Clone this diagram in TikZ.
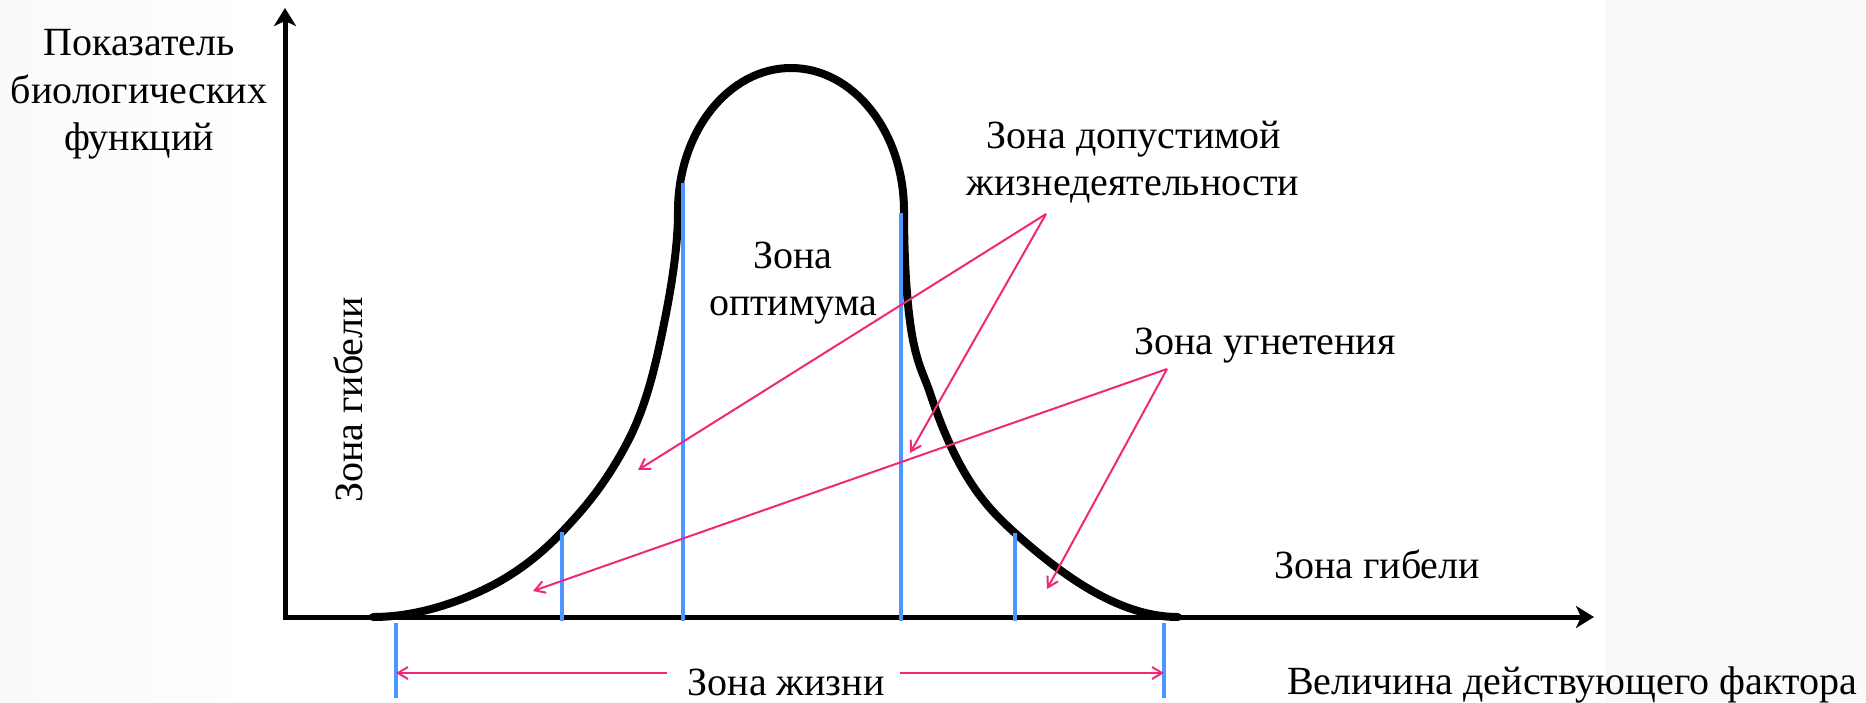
\documentclass[tikz,border=0pt]{standalone}
\usepackage{fontspec}
\setmainfont{Liberation Serif}
\usetikzlibrary{arrows.meta}
\definecolor{zpink}{RGB}{240,40,120}
\definecolor{zblue}{RGB}{77,150,255}
\begin{document}
\begin{tikzpicture}[x=1pt,y=-1pt,
  lbl/.style={font=\fontsize{40}{47}\selectfont, inner sep=0pt, anchor=base},
  axisline/.style={line width=5pt, -{Stealth[length=18pt,width=22pt,inset=5pt]}},
  bellcurve/.style={line width=8pt, line cap=round, line join=round},
  zline/.style={zblue, line width=4pt},
  pinkarrow/.style={zpink, line width=2pt, -{Straight Barb[length=10pt,width=12pt]}}]
% background
\fill[white] (0,0) rectangle (1866,702);
\shade[left color=gray!4, right color=gray!1] (0,0) rectangle (230,702);
\fill[gray!5] (1605,0) rectangle (1866,702);
\useasboundingbox (0,0) rectangle (1866,702);
% axes
\coordinate (O) at (285,619);
\coordinate (ytop) at (285,8);
\coordinate (xorig) at (283,617);
\coordinate (xend) at (1594,617);
\draw[axisline] (O) -- (ytop);
\draw[axisline] (xorig) -- (xend);
% bell curve
\draw[bellcurve] (373,617)
  .. controls (404.3,617) and (435.7,609.5) .. (467,597)
  .. controls (498.7,584.3) and (530.3,565.3) .. (562,532)
  .. controls (583.7,509.2) and (605.3,484.2) .. (627,443)
  .. controls (638,422.1) and (649,394.7) .. (660,343)
  .. controls (668,305.4) and (678,255) .. (678,211)
  .. controls (678,132) and (728.6,68) .. (791,68)
  .. controls (853.4,68) and (904,132) .. (904,211)
  .. controls (904,270) and (908,318) .. (914,345)
  .. controls (919.33,369) and (924.67,377) .. (930,393)
  .. controls (958.3,478) and (986.7,507.5) .. (1015,533)
  .. controls (1069.3,581.9) and (1123.7,617) .. (1178,617);
% blue zone lines
\draw[zline] (562,532) -- (562,621);
\draw[zline] (683,183) -- (683,621);
\draw[zline] (901,213) -- (901,621);
\draw[zline] (1015,533) -- (1015,621);
\coordinate (tickL) at (396,623);
\coordinate (tickLb) at (396,698);
\coordinate (tickR) at (1164,623);
\coordinate (tickRb) at (1164,698);
\draw[zline] (tickL) -- (tickLb);
\draw[zline] (tickR) -- (tickRb);
% labels
\node[lbl] (ylab1) at (139,55) {Показатель};
\node[lbl] (ylab2) at (139,103) {биологических};
\node[lbl] (ylab3) at (139,150) {функций};
\node[lbl, rotate=90] (deathL) at (362,400) {Зона гибели};
\node[lbl] (opt1) at (793,268) {Зона};
\node[lbl] (opt2) at (793,315) {оптимума};
\node[lbl] (tol1) at (1134,148) {Зона допустимой};
\node[lbl] (tol2) at (1133,195) {жизнедеятельности};
\node[lbl] (press) at (1265,354) {Зона угнетения};
\node[lbl] (deathR) at (1377,578) {Зона гибели};
\node[lbl] (life) at (786,695) {Зона жизни};
\node[lbl] (factor) at (1572,694) {Величина действующего фактора};
% pink pointers
\coordinate (tolApex) at (1046,214);
\coordinate (tolL) at (638,470);
\coordinate (tolR) at (910,453);
\coordinate (prApex) at (1167,369);
\coordinate (prL) at (533,591);
\coordinate (prR) at (1047,589);
\draw[pinkarrow] (tolApex) -- (tolL);
\draw[pinkarrow] (tolApex) -- (tolR);
\draw[pinkarrow] (prApex) -- (prL);
\draw[pinkarrow] (prApex) -- (prR);
\coordinate (lifeL) at (667,673);
\coordinate (lifeR) at (900,673);
\draw[pinkarrow] (lifeL) -- (tickL |- lifeL);
\draw[pinkarrow] (lifeR) -- (tickR |- lifeR);
\end{tikzpicture}
\end{document}
